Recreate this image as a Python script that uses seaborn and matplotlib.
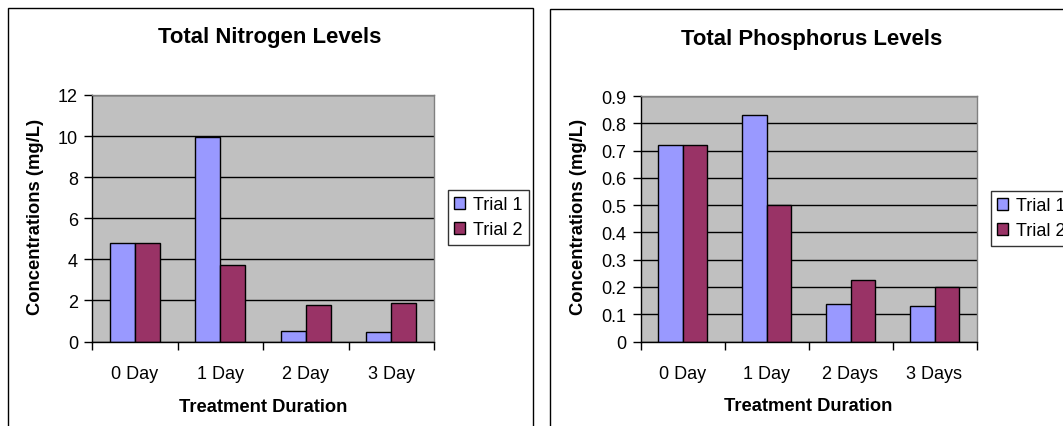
import pandas as pd
import seaborn as sns
import matplotlib.pyplot as plt
from matplotlib.patches import Rectangle, Patch
from matplotlib.ticker import FuncFormatter

plt.rcParams['font.family'] = ['Liberation Sans', 'DejaVu Sans']

# data
trials = ['Trial 1', 'Trial 2']
n_days = ['0 Day', '1 Day', '2 Day', '3 Day']
n_trial1 = [4.78, 9.96, 0.53, 0.44]
n_trial2 = [4.78, 3.74, 1.80, 1.86]

p_days = ['0 Day', '1 Day', '2 Days', '3 Days']
p_trial1 = [0.72, 0.83, 0.138, 0.129]
p_trial2 = [0.72, 0.50, 0.227, 0.198]

colors = ['#9999FF', '#993366']

W, H = 1063, 427


def px(x, y):
    # pixel (from top-left) -> figure fraction
    return x / W, 1 - y / H


def make_df(days, t1, t2):
    rows = []
    for d, a, b in zip(days, t1, t2):
        rows.append({'day': d, 'trial': trials[0], 'value': a})
        rows.append({'day': d, 'trial': trials[1], 'value': b})
    return pd.DataFrame(rows)


def panel(fig, rect, days, t1, t2, ymax, ystep, title, title_xy,
          ylab_x, legend_xy):
    ax = fig.add_axes(rect)
    df = make_df(days, t1, t2)
    sns.barplot(data=df, x='day', y='value', hue='trial', order=days,
                hue_order=trials, palette=colors, width=0.585,
                edgecolor='black', linewidth=1, saturation=1,
                legend=False, ax=ax)
    ax.set_facecolor('#C0C0C0')
    ax.set_xlim(-0.5, len(days) - 0.5)
    ax.set_ylim(0, ymax)
    yt = [i * ystep for i in range(int(round(ymax / ystep)) + 1)]
    ax.set_yticks(yt)
    ax.yaxis.set_major_formatter(FuncFormatter(lambda v, _: f'{v:g}'))
    ax.set_axisbelow(True)
    ax.yaxis.grid(True, color='black', lw=1)

    # category axis: ticks between categories, labels in the middle
    ax.set_xticks([i - 0.5 for i in range(len(days) + 1)])
    ax.set_xticklabels([])
    ax.set_xticks(range(len(days)), minor=True)
    ax.set_xticklabels(days, minor=True)
    ax.tick_params(axis='x', which='major', direction='out', length=6, width=1)
    ax.tick_params(axis='x', which='minor', length=0, pad=17, labelsize=13)
    ax.tick_params(axis='y', direction='out', length=6, width=1, pad=4, labelsize=13)

    for s in ['top', 'right']:
        ax.spines[s].set_color('#808080')
    for s in ['left', 'bottom']:
        ax.spines[s].set_color('black')
    for s in ax.spines.values():
        s.set_linewidth(1)

    ax.set_xlabel('Treatment Duration', fontsize=13.2, fontweight='bold')
    ax.xaxis.set_label_coords(0.5, -0.262)
    ax.xaxis.label.set_va('center')
    ax.set_ylabel('Concentrations (mg/L)', fontsize=13.2, fontweight='bold')
    ax.yaxis.set_label_coords(ylab_x, 0.51)
    ax.yaxis.label.set_va('center')

    fig.text(*px(*title_xy), title, ha='center', va='center',
             fontsize=15.9, fontweight='bold')

    handles = [Patch(facecolor=c, edgecolor='black', lw=1) for c in colors]
    leg = fig.legend(handles, trials, loc='upper left',
                     bbox_to_anchor=px(*legend_xy), borderaxespad=0,
                     fontsize=13, frameon=True, fancybox=False,
                     edgecolor='black', handlelength=0.6, handleheight=0.6,
                     handletextpad=0.45, borderpad=0.35, labelspacing=0.45)
    leg.get_frame().set_linewidth(1)
    return ax


fig = plt.figure(figsize=(W / 100, H / 100), dpi=100)

# outer chart frames
fig.patches.append(Rectangle(px(7.5, 440), 525.5 / W, 431 / H, transform=fig.transFigure,
                             fill=False, edgecolor='black', lw=1))
fig.patches.append(Rectangle(px(549.5, 440), 600 / W, 430 / H, transform=fig.transFigure,
                             fill=False, edgecolor='black', lw=1))

panel(fig, [92 / W, 84.5 / H, 342 / W, 246.5 / H], n_days, n_trial1, n_trial2,
      12, 2, 'Total Nitrogen Levels', (270, 38), -0.164, (448, 191))
panel(fig, [640.5 / W, 84.5 / H, 336 / W, 245.5 / H], p_days, p_trial1, p_trial2,
      0.9, 0.1, 'Total Phosphorus Levels', (812, 40), -0.186, (991, 192))

fig.savefig('out.png', dpi=100, facecolor='white')
